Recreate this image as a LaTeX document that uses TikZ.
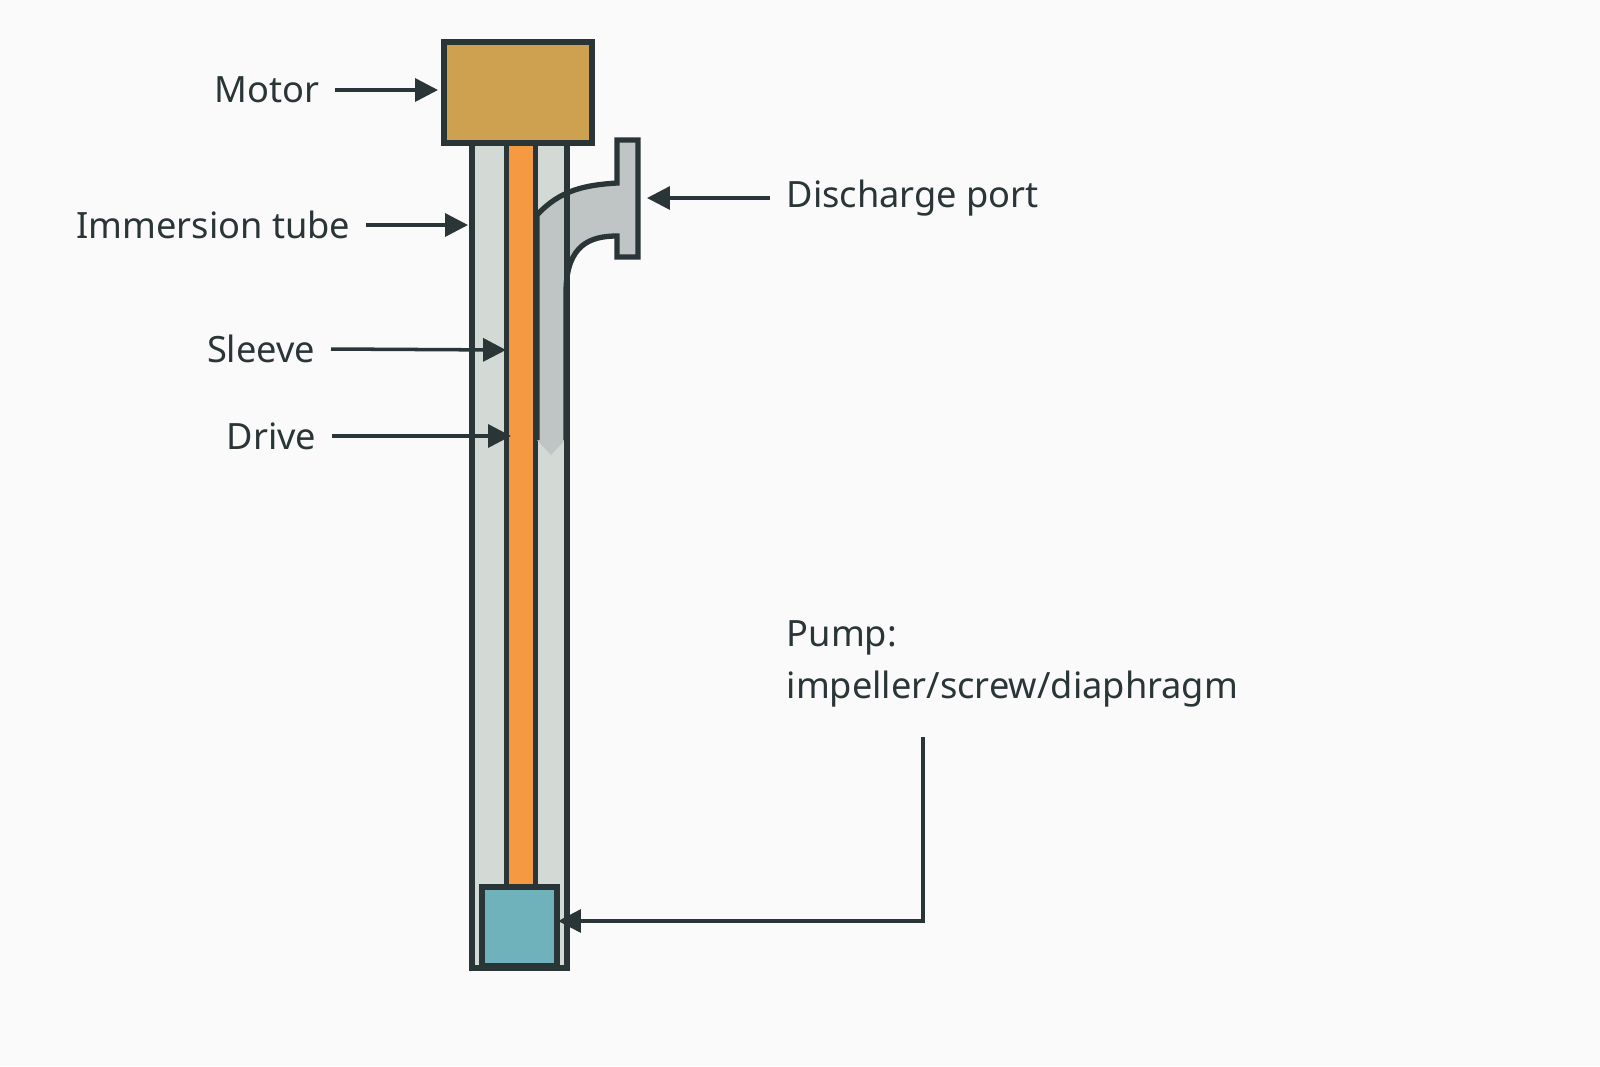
\documentclass[tikz,border=0pt]{standalone}
\usepackage{fontspec}
\setmainfont{Noto Sans}
\usetikzlibrary{arrows.meta,positioning}
\definecolor{ink}{HTML}{2A3537}
\definecolor{motorc}{HTML}{CDA14F}
\definecolor{drivec}{HTML}{F59A43}
\definecolor{sleevec}{HTML}{D3D9D4}
\definecolor{pipec}{HTML}{BFC4C5}
\definecolor{pumpc}{HTML}{6FB2BC}
\tikzset{>=latex}
\begin{document}
\begin{tikzpicture}[x=0.01cm,y=-0.01cm,
		lbl/.style = {font=\fontsize{10.3}{12}\selectfont, text=ink, inner sep=0pt},
		pointer/.style = {-{Triangle[length=6.5pt,width=6.5pt]}, draw=ink, line width=1pt},
		wall/.style = {draw=ink, line width=1.5pt},
	]
	\fill[white!96!gray] (0,0) rectangle (1600,1066);
	\useasboundingbox (0,0) rectangle (1600,1066);
	% tube and sleeve
	\filldraw[wall, fill=sleevec] (472,143) rectangle (567,968);
	\draw[wall] (507,143) -- (507,887);
	\draw[wall] (535,143) -- (535,887);
	\fill[drivec] (509,143) rectangle (533,887);
	% discharge pipe
	\fill[pipec] (537,440) -- (551,455) -- (565,440) -- cycle;
	\filldraw[wall, fill=pipec] (537,440) -- (537,215) .. controls (560,190) and (585,185) .. (617,183)
		-- (617,140) -- (638,140) -- (638,257) -- (617,257) -- (617,236)
		.. controls (590,236) and (567,245) .. (566,290) -- (566,440);
	\draw[wall] (567,143) -- (567,968);
	% motor and pump
	\filldraw[wall, fill=motorc] (444,42) rectangle (592,143);
	\filldraw[wall, fill=pumpc] (482,887) rectangle (557,966);
	% targets
	\coordinate (motor) at (438,90);
	\coordinate (tube) at (468,225);
	\coordinate (port) at (647,198);
	\coordinate (sleeve) at (506,350);
	\coordinate (drive) at (511,436);
	\coordinate (pump) at (558,921);
	\coordinate (bend) at (923,921);
	% labels
	\node[lbl, anchor=east] (motorl) at (320,90) {Motor};
	\node[lbl, anchor=east] (tubel) at (351,225) {Immersion tube};
	\node[lbl, anchor=west] (portl) at (786,198) {Discharge port};
	\node[lbl, anchor=east] (sleevel) at (316,349) {Sleeve};
	\node[lbl, anchor=east] (drivel) at (317,436) {Drive};
	\node[lbl, anchor=west, align=left] (pumpl) at (786,664) {Pump:\\[3pt]impeller/screw/diaphragm};
	% connectors
	\draw[pointer] (motorl.east) ++(15,0) -- (motor);
	\draw[pointer] (tubel.east) ++(15,0) -- (tube);
	\draw[pointer] (portl.west) ++(-16,0) -- (port);
	\draw[pointer] (sleevel.east) ++(15,0) -- (sleeve);
	\draw[pointer] (drivel.east) ++(15,0) -- (drive);
	\draw[pointer] (923,737) -- (bend) -- (pump);
\end{tikzpicture}
\end{document}
